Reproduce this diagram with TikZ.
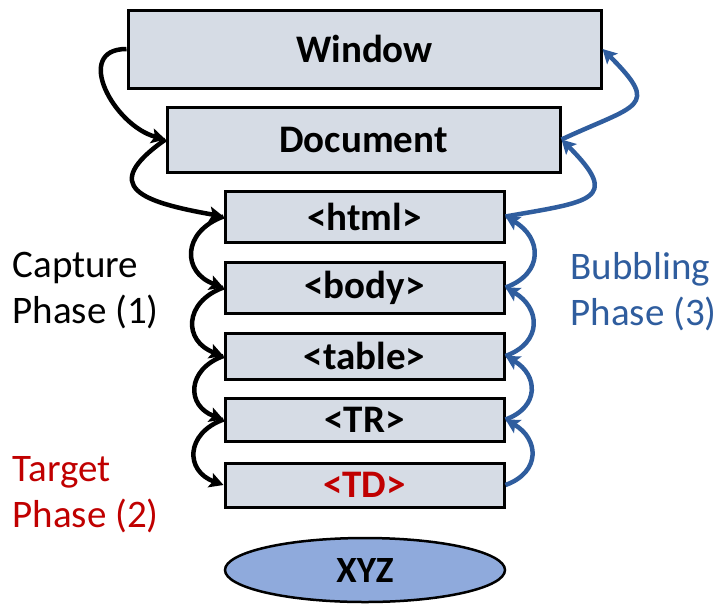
\documentclass[tikz,border=0pt]{standalone}
\usepackage{fontspec}
\setmainfont{Carlito}
\usetikzlibrary{arrows.meta,shapes.geometric}
\definecolor{boxgray}{HTML}{D6DCE5}
\definecolor{bubblue}{HTML}{2F5D9E}
\definecolor{tdred}{HTML}{C00000}
\definecolor{xyzblue}{HTML}{8FAADC}

\begin{document}
\begin{tikzpicture}[x=1pt,y=1pt,
		elem/.style={draw,line width=3pt,fill=boxgray,inner sep=0pt,font=\fontsize{39}{40}\selectfont\bfseries},
		capturearrow/.style={line width=4.5pt,-{Stealth[length=14pt,width=15pt,inset=3pt]}},
		bubblearrow/.style={line width=4.5pt,color=bubblue,-{Stealth[length=14pt,width=15pt,inset=3pt]}},
		phase/.style={align=left,anchor=west,font=\fontsize{39}{46}\selectfont}]
			\useasboundingbox (0,0) rectangle (722,-608);
			% elements
			\node[elem,minimum width=473pt,minimum height=78pt] (win) at (364.5,-49) {Window};
			\node[elem,minimum width=393pt,minimum height=65pt] (doc) at (363.5,-139.5) {Document};
			\node[elem,minimum width=279pt,minimum height=51pt] (html) at (364.5,-216.5) {<html>};
			\node[elem,minimum width=279pt,minimum height=51pt] (body) at (364.5,-287.5) {<body>};
			\node[elem,minimum width=279pt,minimum height=46pt] (table) at (364.5,-356) {<table>};
			\node[elem,minimum width=279pt,minimum height=43pt] (tr) at (364.5,-419.5) {<TR>};
			\node[elem,minimum width=279pt,minimum height=44pt,text=tdred] (td) at (364.5,-485) {<TD>};
			\node[ellipse,draw,line width=2.5pt,fill=xyzblue,minimum width=280pt,minimum height=64pt,inner sep=0pt,font=\fontsize{37}{38}\selectfont\bfseries] (xyz) at (365,-570) {XYZ};
			% phase labels
			\node[phase] (capture) at (9,-291) {Capture\\Phase (1)};
			\node[phase,text=tdred] (target) at (9,-495) {Target\\Phase (2)};
			\node[phase,text=bubblue] (bubbling) at (567,-292) {Bubbling\\Phase (3)};
			% capture
			\draw[capturearrow] (win.west) to[out=180,in=165,looseness=1.4] (doc.west);
			\draw[capturearrow] (doc.west) to[out=215,in=170,looseness=2.2] (html.west);
			\draw[capturearrow] (html.west) to[out=200,in=160,looseness=1.6] (body.west);
			\draw[capturearrow] (body.west) to[out=200,in=160,looseness=1.6] (table.west);
			\draw[capturearrow] (table.west) to[out=200,in=160,looseness=1.6] (tr.west);
			\draw[capturearrow] (tr.west) to[out=200,in=160,looseness=1.6] (td.west);
			% bubbling
			\draw[bubblearrow] (td.east) to[out=20,in=-30,looseness=1.5] (tr.east);
			\draw[bubblearrow] (tr.east) to[out=20,in=-30,looseness=1.5] (table.east);
			\draw[bubblearrow] (table.east) to[out=20,in=-30,looseness=1.5] (body.east);
			\draw[bubblearrow] (body.east) to[out=20,in=-30,looseness=1.5] (html.east);
			\draw[bubblearrow] (html.east) to[out=10,in=-45,looseness=2.3] (doc.east);
			\draw[bubblearrow] (doc.east) to[out=25,in=-45,looseness=2.15] (win.east);
		\end{tikzpicture}
\end{document}
